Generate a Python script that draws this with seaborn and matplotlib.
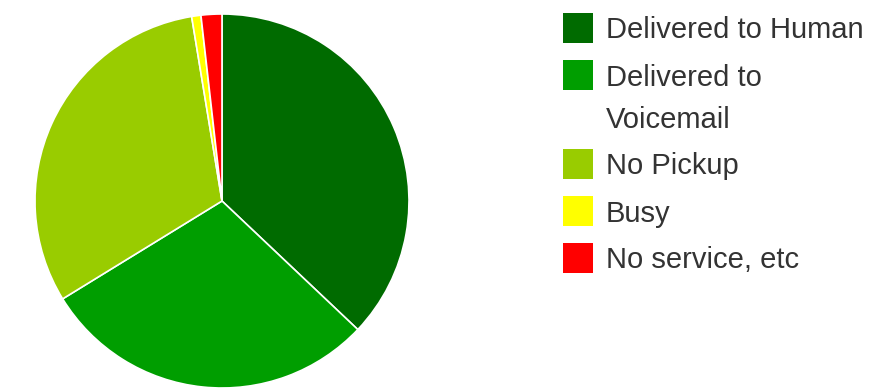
import matplotlib
matplotlib.use("Agg")
import matplotlib.pyplot as plt
import seaborn as sns
from matplotlib.patches import Rectangle

sns.set_theme(style="white")
plt.rcParams['font.family'] = ['Liberation Sans', 'DejaVu Sans']

categories = ["Delivered to Human", "Delivered to\nVoicemail", "No Pickup", "Busy", "No service, etc"]
values = [37.1, 29.2, 31.2, 0.8, 1.8]
colors = ["#006b00", "#009e00", "#99cc00", "#ffff00", "#ff0000"]

W, H = 885, 390
fig = plt.figure(figsize=(W / 100, H / 100), dpi=100)
fig.patch.set_facecolor("white")

cx, cy, r = 222, 201, 187
ax = fig.add_axes([(cx - r) / W, (H - cy - r) / H, 2 * r / W, 2 * r / H])
ax.pie(values, colors=colors, startangle=90, counterclock=False,
       wedgeprops=dict(edgecolor="white", linewidth=1.2))
ax.set_xlim(-1, 1)
ax.set_ylim(-1, 1)
ax.set_aspect("equal")
ax.axis("off")

# legend
y = 28
for lab, col in zip(categories, colors):
    fig.patches.append(Rectangle(((563) / W, 1 - (y + 15) / H), 30 / W, 30 / H,
                                 transform=fig.transFigure, facecolor=col,
                                 edgecolor="none"))
    lines = lab.split("\n")
    for i, ln in enumerate(lines):
        fig.text(606 / W, 1 - (y + 10.5 + 42 * i) / H, ln, fontsize=21,
                 color="#333333", va="baseline", ha="left")
    y += 47 + 42 * (len(lines) - 1)

fig.savefig("out.png", dpi=100, facecolor="white")
